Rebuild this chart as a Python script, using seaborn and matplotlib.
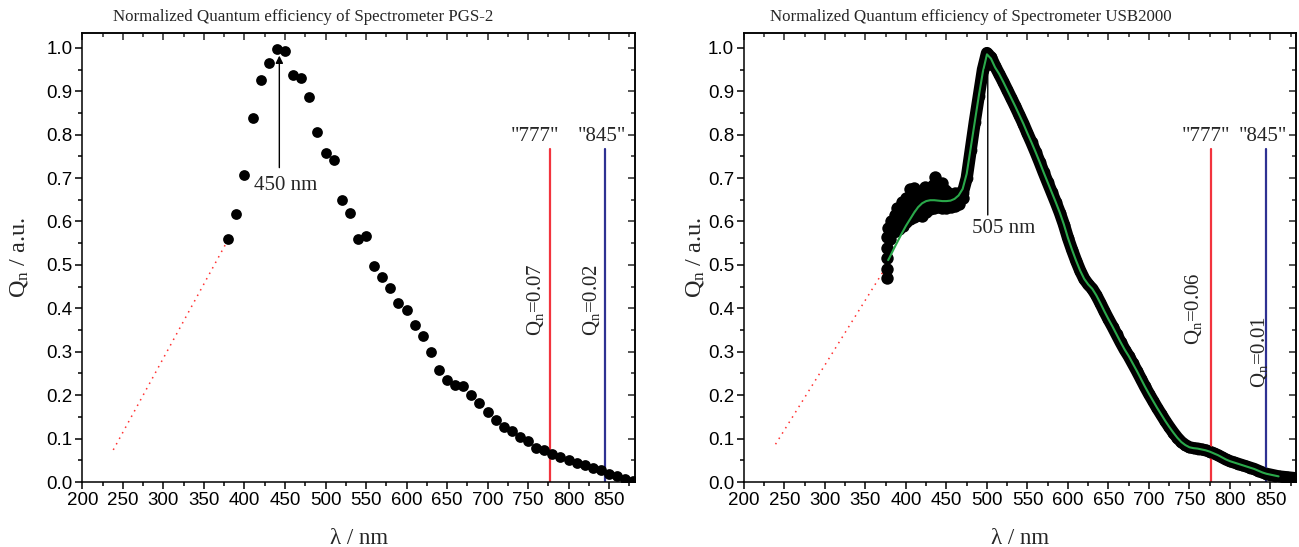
import matplotlib
matplotlib.use("Agg")
import matplotlib.pyplot as plt
import seaborn as sns
from matplotlib.ticker import MultipleLocator, FormatStrFormatter

# ---------------- data ----------------
# PGS-2 measured points
pgs_nm = [380, 390, 400, 410, 420, 430, 440, 450, 460, 470, 480, 490, 500, 510, 520,
          530, 540, 550, 560, 570, 580, 590, 600, 610, 620, 630, 640, 650, 660, 670,
          680, 690, 700, 710, 720, 730, 740, 750, 760, 770, 780, 790, 800, 810, 820,
          830, 840, 850, 860, 870, 880]
pgs_q = [0.559, 0.618, 0.707, 0.838, 0.926, 0.965, 0.997, 0.992, 0.938, 0.931, 0.886,
         0.807, 0.757, 0.742, 0.650, 0.619, 0.559, 0.567, 0.498, 0.473, 0.447, 0.412,
         0.396, 0.362, 0.336, 0.299, 0.258, 0.235, 0.224, 0.220, 0.201, 0.181, 0.162,
         0.143, 0.127, 0.117, 0.104, 0.094, 0.079, 0.073, 0.064, 0.058, 0.051, 0.044,
         0.040, 0.032, 0.028, 0.018, 0.014, 0.008, 0.002]
pgs_extrap_nm = [238, 380]
pgs_extrap_q = [0.074, 0.559]

# USB2000 measured spectrum (band centre)
usb_nm = [470, 475, 480, 485, 490, 495, 500, 505, 510, 515, 520, 525, 530, 535, 540,
          545, 550, 555, 560, 565, 570, 575, 580, 585, 590, 595, 600, 605, 610, 615,
          620, 625, 630, 635, 640, 645, 650, 655, 660, 665, 670, 675, 680, 685, 690,
          695, 700, 705, 710, 715, 720, 725, 730, 735, 740, 745, 750, 755, 760, 765,
          770, 775, 780, 785, 790, 795, 800, 805, 810, 815, 820, 825, 830, 835, 840,
          845, 850, 855, 860, 865, 870, 875, 880]
usb_q = [0.665, 0.70, 0.765, 0.83, 0.89, 0.95, 0.988, 0.978, 0.958, 0.94, 0.922, 0.903,
         0.884, 0.865, 0.845, 0.825, 0.803, 0.782, 0.76, 0.737, 0.713, 0.69, 0.667,
         0.644, 0.62, 0.593, 0.562, 0.535, 0.51, 0.487, 0.468, 0.455, 0.445, 0.43,
         0.412, 0.393, 0.375, 0.358, 0.34, 0.322, 0.305, 0.29, 0.273, 0.256, 0.238,
         0.22, 0.203, 0.187, 0.171, 0.156, 0.141, 0.127, 0.114, 0.102, 0.092, 0.085,
         0.08, 0.078, 0.077, 0.075, 0.073, 0.07, 0.066, 0.062, 0.057, 0.052, 0.048,
         0.045, 0.042, 0.039, 0.036, 0.033, 0.03, 0.026, 0.022, 0.019, 0.017, 0.015,
         0.013, 0.012, 0.011, 0.01, 0.009]
# USB2000 noisy blue region (individual measured points)
usb_noise_nm = [376, 377, 377, 376, 377, 378, 381, 384, 386, 389, 392, 395, 398, 400,
                403, 405, 408, 410, 413, 416, 418, 421, 424, 427, 430, 433, 436, 439,
                442, 445, 448, 451, 454, 457, 460, 463, 466, 469,
                380, 384, 388, 392, 396, 400, 405, 410, 415, 420, 425, 430, 435, 440,
                445, 450, 455, 460, 465, 470,
                380, 383, 386, 389, 392, 395, 398, 401, 404, 407, 410, 413, 416, 419,
                422, 425, 428, 431, 434, 437, 440, 443, 446, 449, 452, 455, 458, 461,
                464, 467]
usb_noise_q = [0.47, 0.49, 0.515, 0.54, 0.565, 0.585, 0.60, 0.585, 0.615, 0.63, 0.62,
               0.645, 0.635, 0.655, 0.645, 0.675, 0.66, 0.678, 0.665, 0.668, 0.655,
               0.665, 0.68, 0.67, 0.675, 0.685, 0.702, 0.68, 0.67, 0.688, 0.672, 0.668,
               0.655, 0.66, 0.665, 0.66, 0.665, 0.67,
               0.56, 0.575, 0.578, 0.582, 0.59, 0.598, 0.605, 0.61, 0.614, 0.612,
               0.622, 0.628, 0.632, 0.633, 0.632, 0.632, 0.634, 0.635, 0.64, 0.655,
               0.575, 0.59, 0.595, 0.60, 0.61, 0.615, 0.62, 0.625, 0.635, 0.64, 0.64,
               0.645, 0.64, 0.64, 0.645, 0.65, 0.65, 0.655, 0.66, 0.655, 0.655, 0.65,
               0.655, 0.65, 0.648, 0.645, 0.645, 0.648, 0.65, 0.655]
# USB2000 smooth fit (green)
fit_nm = [378, 380, 385, 390, 395, 400, 405, 410, 415, 420, 425, 430, 435, 440, 445,
          450, 455, 460, 465, 470, 475, 480, 485, 490, 495, 500, 505, 510, 515, 520,
          525, 530, 535, 540, 545, 550, 555, 560, 565, 570, 575, 580, 585, 590, 595,
          600, 605, 610, 615, 620, 625, 630, 635, 640, 645, 650, 655, 660, 665, 670,
          675, 680, 685, 690, 695, 700, 705, 710, 715, 720, 725, 730, 735, 740, 745,
          750, 755, 760, 765, 770, 775, 780, 785, 790, 795, 800, 805, 810, 815, 820,
          825, 830, 835, 840, 845, 850, 855, 860]
fit_q = [0.511, 0.518, 0.537, 0.555, 0.573, 0.59, 0.605, 0.62, 0.633, 0.642, 0.647,
         0.649, 0.649, 0.648, 0.647, 0.647, 0.648, 0.652, 0.66, 0.675, 0.71, 0.77, 0.83,
         0.89, 0.945, 0.985, 0.975, 0.955, 0.94, 0.922, 0.903, 0.884, 0.865, 0.845,
         0.825, 0.803, 0.782, 0.76, 0.737, 0.713, 0.69, 0.667, 0.644, 0.62, 0.593,
         0.562, 0.535, 0.51, 0.487, 0.468, 0.455, 0.445, 0.43, 0.412, 0.393, 0.375,
         0.358, 0.34, 0.322, 0.305, 0.29, 0.273, 0.256, 0.238, 0.22, 0.203, 0.187,
         0.171, 0.156, 0.141, 0.127, 0.114, 0.102, 0.092, 0.085, 0.08, 0.078, 0.077,
         0.075, 0.073, 0.07, 0.066, 0.062, 0.057, 0.052, 0.048, 0.045, 0.042, 0.039,
         0.036, 0.033, 0.03, 0.026, 0.022, 0.019, 0.017, 0.015, 0.013]
usb_extrap_nm = [239, 380]
usb_extrap_q = [0.087, 0.509]

line_nm = [777, 845]
line_names = ['"777"', '"845"']
line_colors = ["#f2333d", "#2e3192"]
line_top = 0.768
pgs_line_q = ["0.07", "0.02"]
usb_line_q = ["0.06", "0.01"]

titles = ["Normalized Quantum efficiency of Spectrometer PGS-2",
          "Normalized Quantum efficiency of Spectrometer USB2000"]

# ---------------- style ----------------
sns.set_theme(style="ticks")
plt.rcParams["font.family"] = ["Liberation Serif", "DejaVu Serif"]
plt.rcParams["mathtext.fontset"] = "custom"
plt.rcParams["mathtext.rm"] = "Liberation Serif"
plt.rcParams["mathtext.it"] = "Liberation Serif:italic"
plt.rcParams["mathtext.bf"] = "Liberation Serif:bold"

fig = plt.figure(figsize=(12.99, 5.47), dpi=100)
axL = fig.add_axes([0.0635, 0.1188, 0.4253, 0.8208])
axR = fig.add_axes([0.5727, 0.1188, 0.4253, 0.8208])


def style(ax, ylab_x):
    ax.set_facecolor("white")
    ax.set_xlim(200, 882)
    ax.set_ylim(0, 1.034)
    ax.xaxis.set_major_locator(MultipleLocator(50))
    ax.xaxis.set_minor_locator(MultipleLocator(25))
    ax.yaxis.set_major_locator(MultipleLocator(0.1))
    ax.yaxis.set_minor_locator(MultipleLocator(0.05))
    ax.yaxis.set_major_formatter(FormatStrFormatter("%.1f"))
    ax.tick_params(which="both", direction="out", width=1.1, color="black",
                   labelsize=13.5, labelfontfamily="Liberation Sans", pad=2,
                   labelcolor="black")
    ax.tick_params(which="major", length=5)
    ax.tick_params(which="minor", length=3)
    for s in ax.spines.values():
        s.set_visible(True)
        s.set_linewidth(1.1)
        s.set_color("black")
    top = ax.secondary_xaxis("top")
    top.xaxis.set_major_locator(MultipleLocator(50))
    top.xaxis.set_minor_locator(MultipleLocator(25))
    top.tick_params(which="both", direction="in", width=1.1, labeltop=False)
    top.tick_params(which="major", length=5)
    top.tick_params(which="minor", length=3)
    right = ax.secondary_yaxis("right")
    right.yaxis.set_major_locator(MultipleLocator(0.1))
    right.yaxis.set_minor_locator(MultipleLocator(0.05))
    right.tick_params(which="both", direction="in", width=1.1, labelright=False)
    right.tick_params(which="major", length=5)
    right.tick_params(which="minor", length=3)
    ax.set_xlabel("λ / nm", fontsize=16.5)
    ax.set_ylabel(r"$\mathrm{Q_n}$ / a.u.", fontsize=17.5)
    ax.xaxis.set_label_coords(0.5, -0.103)
    ax.yaxis.set_label_coords(ylab_x, 0.5)


def vlines(ax):
    for nm, col in zip(line_nm, line_colors):
        sns.lineplot(x=[nm, nm], y=[0, line_top], ax=ax, color=col, lw=1.6,
                     estimator=None, sort=False)


# ---- left panel ----
style(axL, -0.095)
sns.lineplot(x=pgs_extrap_nm, y=pgs_extrap_q, ax=axL, color="#ff3030", lw=1.1,
             linestyle=(0, (1, 3.1)), estimator=None, sort=False)
vlines(axL)
sns.scatterplot(x=pgs_nm, y=pgs_q, ax=axL, color="black", s=60, linewidth=0,
                zorder=3)
axL.annotate("", xy=(443, 0.982), xytext=(443, 0.724),
             arrowprops=dict(arrowstyle="-|>", color="black", lw=1.0,
                             mutation_scale=11, shrinkA=0, shrinkB=0))
axL.text(451, 0.683, "450 nm", fontsize=15, ha="center", va="center")
axL.text(758, 0.775, line_names[0], fontsize=15, ha="center", va="bottom")
axL.text(841, 0.775, line_names[1], fontsize=15, ha="center", va="bottom")
axL.text(759, 0.42, r"$\mathrm{Q_n}$=" + pgs_line_q[0], fontsize=15, rotation=90,
         ha="center", va="center")
axL.text(828, 0.42, r"$\mathrm{Q_n}$=" + pgs_line_q[1], fontsize=15, rotation=90,
         ha="center", va="center")
axL.text(0.40, 1.036, titles[0], transform=axL.transAxes, fontsize=12.2,
         ha="center", va="center")

# ---- right panel ----
style(axR, -0.068)
sns.lineplot(x=usb_extrap_nm, y=usb_extrap_q, ax=axR, color="#ff3030", lw=1.1,
             linestyle=(0, (1, 3.1)), estimator=None, sort=False)
sns.lineplot(x=usb_nm, y=usb_q, ax=axR, color="black", lw=8.8, estimator=None,
             sort=False, solid_capstyle="round", solid_joinstyle="round")
sns.scatterplot(x=usb_noise_nm, y=usb_noise_q, ax=axR, color="black", s=80,
                linewidth=0, zorder=2.5)
sns.scatterplot(x=usb_nm, y=usb_q, ax=axR, color="black", s=72, linewidth=0,
                zorder=2.5)
vlines(axR)
sns.lineplot(x=fit_nm, y=fit_q, ax=axR, color="#2aa84a", lw=1.5, estimator=None,
             sort=False, zorder=4)
axR.annotate("", xy=(501, 0.965), xytext=(501, 0.615),
             arrowprops=dict(arrowstyle="-|>", color="black", lw=1.0,
                             mutation_scale=10, shrinkA=0, shrinkB=0), zorder=5)
axR.text(520, 0.585, "505 nm", fontsize=15, ha="center", va="center")
axR.text(770.5, 0.775, line_names[0], fontsize=15, ha="center", va="bottom")
axR.text(841, 0.775, line_names[1], fontsize=15, ha="center", va="bottom")
axR.text(755.5, 0.40, r"$\mathrm{Q_n}$=" + usb_line_q[0], fontsize=15, rotation=90,
         ha="center", va="center")
axR.text(836, 0.30, r"$\mathrm{Q_n}$=" + usb_line_q[1], fontsize=15, rotation=90,
         ha="center", va="center")
axR.text(0.411, 1.036, titles[1], transform=axR.transAxes, fontsize=12.2,
         ha="center", va="center")

for ax in (axL, axR):
    if ax.get_legend() is not None:
        ax.get_legend().remove()

fig.savefig("out.png", dpi=100, facecolor="white")
